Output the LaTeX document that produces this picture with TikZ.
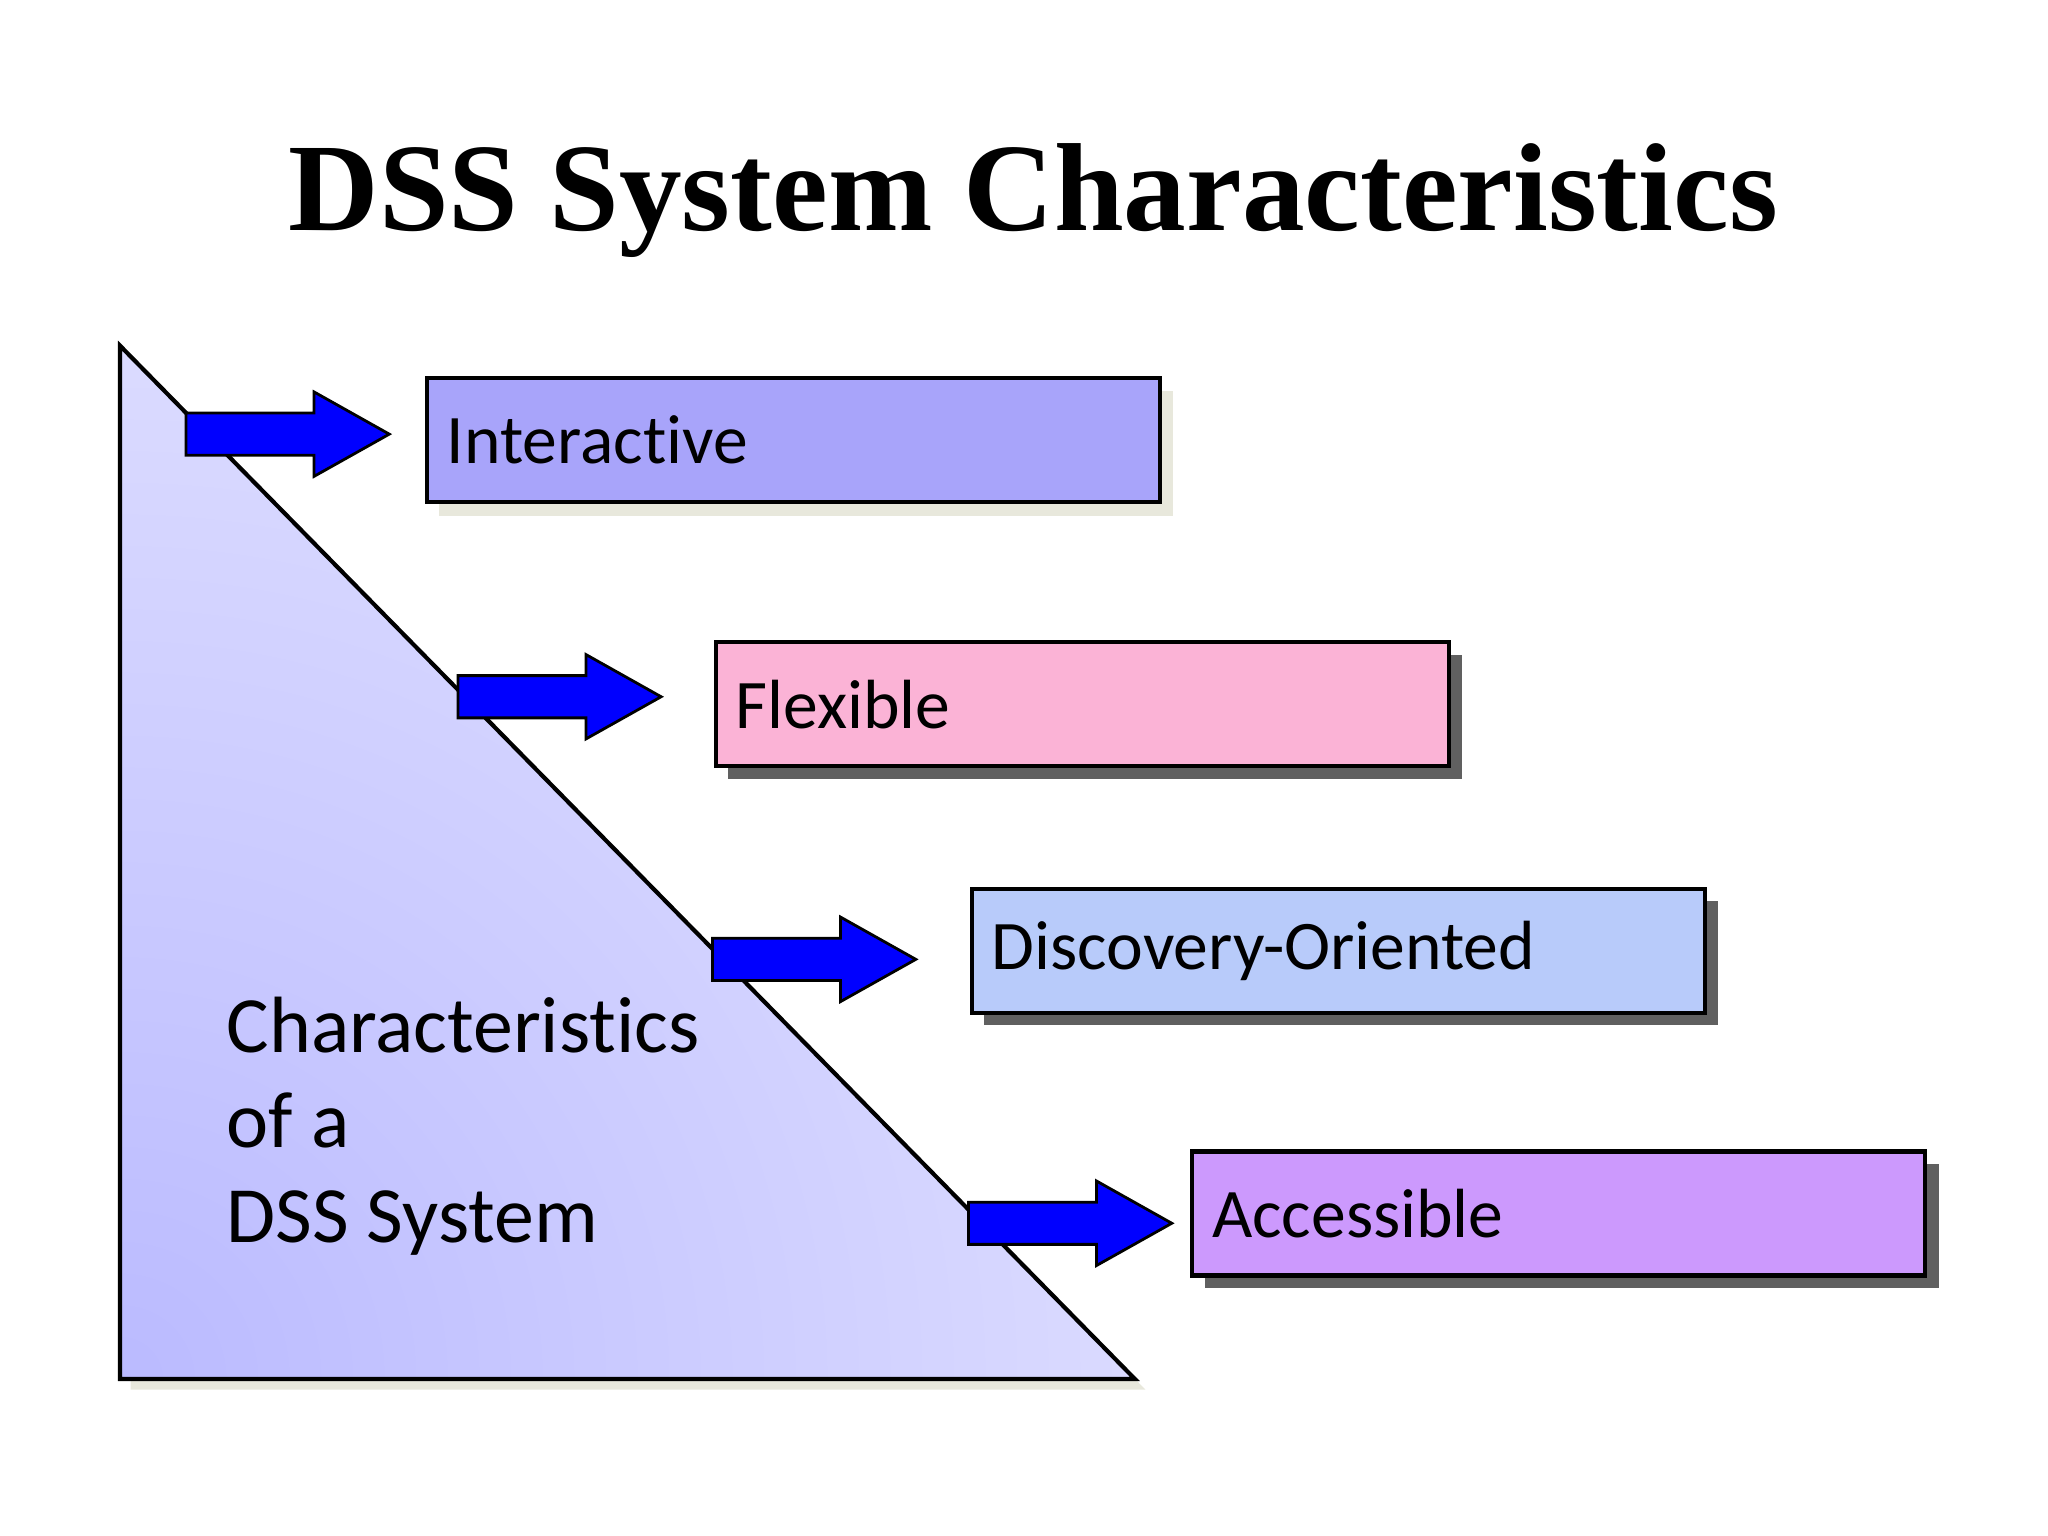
\documentclass[tikz,border=0pt]{standalone}
\usepackage{fontspec}
\setmainfont{Carlito}[Ligatures=NoCommon]
\newfontfamily\titlefont{Liberation Serif}
\definecolor{boxA}{HTML}{A8A4FA}
\definecolor{boxB}{HTML}{FBB3D6}
\definecolor{boxC}{HTML}{B8CBFA}
\definecolor{boxD}{HTML}{CC99FD}
\definecolor{shdark}{HTML}{606060}
\definecolor{shlight}{HTML}{E8E8DC}
\begin{document}
\begin{tikzpicture}[x=0.01cm,y=-0.01cm,
  box/.style={draw=black,line width=0.9pt,minimum width=5.55cm,minimum height=0.94cm,anchor=north west,inner sep=0pt,text width=5.25cm,align=left,font=\fontsize{15}{18}\selectfont},
  arr/.style={fill=blue,draw=black,line width=0.6pt}]
\useasboundingbox (0,0) rectangle (1552,1164);
\node[font=\titlefont\bfseries\fontsize{27}{32}\selectfont] (title) at (783,152) {DSS System Characteristics};
% triangle
\fill[shlight] (99,270) -- (99,1053) -- (868,1053) -- cycle;
\begin{scope}
\clip (91,262) -- (91,1045) -- (860,1045) -- cycle;
\shade[inner color=blue!27, outer color=white] (91,1045) circle (1650);
\end{scope}
\draw[line width=0.9pt] (91,262) -- (91,1045) -- (860,1045) -- cycle;
\node[anchor=north west,align=left,font=\fontsize{17.2}{21}\selectfont,inner sep=0pt] (lbl) at (171,755) {Characteristics\\[-0.02cm] \strut of a\\[-0.02cm] \strut DSS System};
% boxes with shadows
\fill[shlight] (333,296) rectangle (889,391);
\node[box,fill=boxA] (b1) at (322,285) {Interactive};
\fill[shdark] (552,496) rectangle (1108,590);
\node[box,fill=boxB] (b2) at (541,485) {Flexible};
\fill[shdark] (746,683) rectangle (1302,777);
\node[box,fill=boxC] (b3) at (735,672) {Discovery-Oriented};
\fill[shdark] (913,882) rectangle (1469,976);
\node[box,fill=boxD] (b4) at (902,871) {Accessible};
% arrows
\foreach \x/\y in {141/329,347/528,540/727,734/927}{
  \draw[arr] (\x,\y-16) -- (\x+97,\y-16) -- (\x+97,\y-32) -- (\x+154,\y) -- (\x+97,\y+32) -- (\x+97,\y+16) -- (\x,\y+16) -- cycle;
}
\end{tikzpicture}
\end{document}
